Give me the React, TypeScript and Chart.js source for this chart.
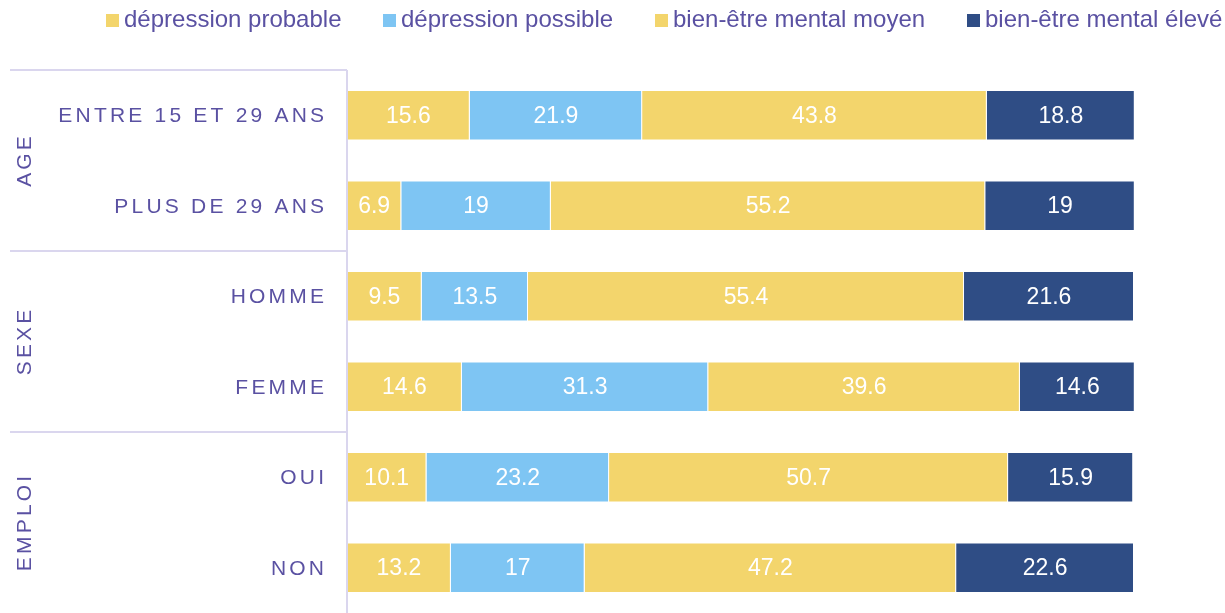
import React, { useEffect, useRef } from "react";
import { Chart, registerables } from "chart.js";
Chart.register(...registerables);

const categories = ["ENTRE 15 ET 29 ANS", "PLUS DE 29 ANS", "HOMME", "FEMME", "OUI", "NON"];
const groups = ["AGE", "SEXE", "EMPLOI"];
const groupSizes = [2, 2, 2];
const seriesNames = ["dépression probable", "dépression possible", "bien-être mental moyen", "bien-être mental élevé"];
const depressionProbable = [15.6, 6.9, 9.5, 14.6, 10.1, 13.2];
const depressionPossible = [21.9, 19, 13.5, 31.3, 23.2, 17];
const bienEtreMoyen = [43.8, 55.2, 55.4, 39.6, 50.7, 47.2];
const bienEtreEleve = [18.8, 19, 21.6, 14.6, 15.9, 22.6];

const colors = ["#F3D56C", "#7EC5F3", "#F3D56C", "#2F4D85"];
const legendX = [106, 383, 655, 967];
const FONT = "'Liberation Sans', Arial, sans-serif";
const TEXT = "#5A51A2";
const LINE = "#DAD6EE";
const SPACING = 3.2;

const overlay = {
  id: "overlay",
  afterDraw(chart: any) {
    const ctx = chart.ctx as CanvasRenderingContext2D;
    const y = chart.scales.y;
    const area = chart.chartArea;
    ctx.save();
    // data labels
    ctx.fillStyle = "#ffffff";
    ctx.font = `23px ${FONT}`;
    ctx.textAlign = "center";
    ctx.textBaseline = "middle";
    chart.data.datasets.forEach((ds: any, di: number) => {
      const meta = chart.getDatasetMeta(di);
      meta.data.forEach((el: any, i: number) => {
        const p = el.getProps(["x", "y", "base"], true);
        ctx.fillText(String(ds.data[i]), (p.x + p.base) / 2, p.y + 1);
      });
    });
    // axis line
    ctx.strokeStyle = LINE;
    ctx.lineWidth = 2;
    ctx.beginPath();
    ctx.moveTo(area.left, area.top);
    ctx.lineTo(area.left, chart.height);
    ctx.stroke();
    // category labels
    ctx.fillStyle = TEXT;
    ctx.font = `21px ${FONT}`;
    (ctx as any).letterSpacing = `${SPACING}px`;
    ctx.textAlign = "left";
    categories.forEach((c, i) => {
      const w = ctx.measureText(c).width - SPACING;
      ctx.fillText(c, 324 - w, y.getPixelForValue(i) + 1);
    });
    // group separators and labels
    let start = 0;
    groups.forEach((g, gi) => {
      const end = start + groupSizes[gi] - 1;
      const step = y.getPixelForValue(1) - y.getPixelForValue(0);
      const top = y.getPixelForValue(start) - step / 2;
      ctx.strokeStyle = LINE;
      ctx.lineWidth = 2;
      ctx.beginPath();
      ctx.moveTo(10, top);
      ctx.lineTo(area.left, top);
      ctx.stroke();
      const mid = (y.getPixelForValue(start) + y.getPixelForValue(end)) / 2;
      ctx.save();
      ctx.translate(25, mid + 1);
      ctx.rotate(-Math.PI / 2);
      ctx.textAlign = "left";
      const w = ctx.measureText(g).width - SPACING;
      ctx.fillText(g, -w / 2, 0);
      ctx.restore();
      start = end + 1;
    });
    (ctx as any).letterSpacing = "0px";
    // legend
    ctx.font = `24px ${FONT}`;
    ctx.textAlign = "left";
    seriesNames.forEach((n, i) => {
      ctx.fillStyle = colors[i];
      ctx.fillRect(legendX[i], 14, 13, 13);
      ctx.fillStyle = TEXT;
      ctx.fillText(n, legendX[i] + 18, 20);
    });
    ctx.restore();
  },
};

export default function App() {
  const ref = useRef<HTMLCanvasElement>(null);
  useEffect(() => {
    const series = [depressionProbable, depressionPossible, bienEtreMoyen, bienEtreEleve];
    const chart = new Chart(ref.current!, {
      type: "bar",
      data: {
        labels: categories,
        datasets: series.map((d, i) => ({
          label: seriesNames[i],
          data: d,
          backgroundColor: colors[i],
          borderColor: "rgba(255,255,255,0.55)",
          borderWidth: 1,
          categoryPercentage: 1,
          barPercentage: 0.56,
        })),
      },
      options: {
        indexAxis: "y",
        animation: false,
        responsive: false,
        maintainAspectRatio: false,
        layout: { padding: { left: 347, right: 91, top: 70, bottom: 0 } },
        plugins: { legend: { display: false }, tooltip: { enabled: false } },
        scales: {
          x: { stacked: true, min: 0, max: 100, display: false },
          y: { stacked: true, display: false },
        },
      },
      plugins: [overlay],
    });
    return () => chart.destroy();
  }, []);
  return (
    <div style={{ position: "fixed", left: 0, top: 0, width: 1225, height: 613, background: "#fff" }}>
      <canvas ref={ref} width={1225} height={613} />
    </div>
  );
}
